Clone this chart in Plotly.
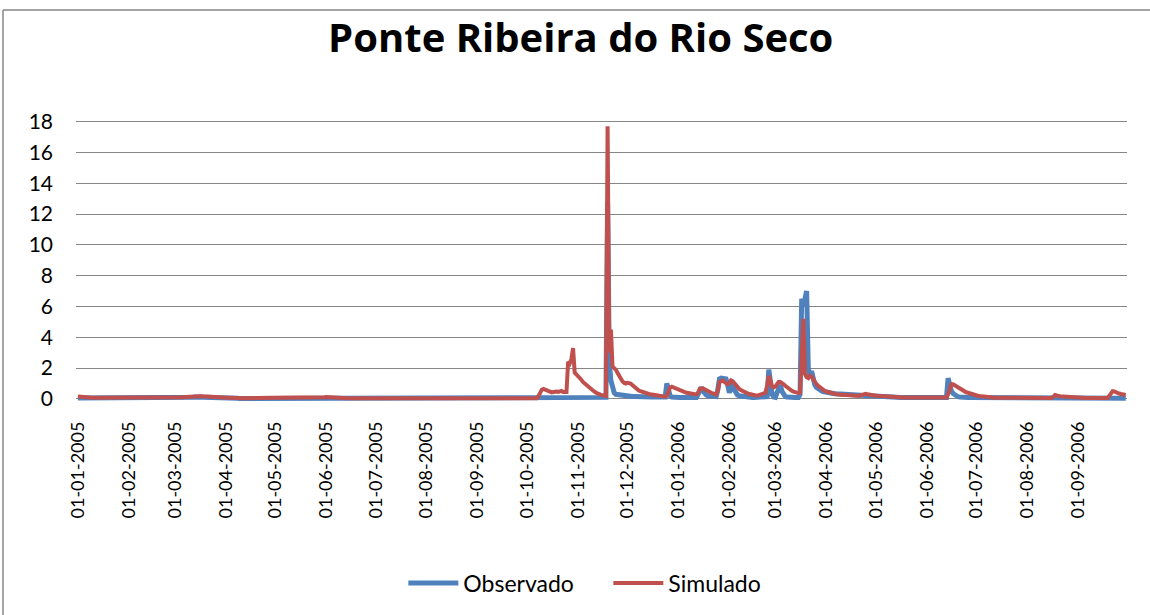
import pandas as pd
import plotly.graph_objects as go

titulo = "Ponte Ribeira do Rio Seco"
inicio = "2005-01-01"
ticks_mensais = pd.date_range("2005-01-01", "2006-09-01", freq="MS")

# caudal diario, uma linha por mes (jan 2005 .. set 2006)
observado = [
    0.06, 0.06, 0.05, 0.05, 0.05, 0.05, 0.04, 0.04, 0.04, 0.04, 0.04, 0.04, 0.04, 0.03, 0.03, 0.03, 0.03, 0.03, 0.03, 0.03, 0.03, 0.03, 0.03, 0.03, 0.03, 0.03, 0.03, 0.03, 0.03, 0.03, 0.03,
    0.03, 0.03, 0.03, 0.03, 0.03, 0.03, 0.03, 0.03, 0.03, 0.03, 0.03, 0.03, 0.03, 0.03, 0.03, 0.03, 0.03, 0.03, 0.03, 0.03, 0.03, 0.03, 0.03, 0.03, 0.03, 0.03, 0.03, 0.03,
    0.03, 0.03, 0.04, 0.05, 0.06, 0.07, 0.08, 0.09, 0.10, 0.10, 0.11, 0.11, 0.12, 0.12, 0.12, 0.11, 0.11, 0.10, 0.10, 0.09, 0.09, 0.08, 0.08, 0.07, 0.07, 0.07, 0.06, 0.06, 0.06, 0.05, 0.05,
    0.05, 0.05, 0.05, 0.04, 0.04, 0.04, 0.04, 0.04, 0.03, 0.03, 0.03, 0.03, 0.03, 0.03, 0.03, 0.03, 0.03, 0.03, 0.03, 0.03, 0.03, 0.03, 0.03, 0.03, 0.03, 0.03, 0.03, 0.03, 0.03, 0.03,
    0.03, 0.03, 0.03, 0.03, 0.03, 0.03, 0.03, 0.03, 0.03, 0.03, 0.03, 0.03, 0.03, 0.03, 0.03, 0.03, 0.03, 0.03, 0.03, 0.03, 0.03, 0.03, 0.03, 0.03, 0.03, 0.03, 0.03, 0.04, 0.05, 0.06, 0.07,
    0.08, 0.07, 0.06, 0.05, 0.05, 0.04, 0.04, 0.03, 0.03, 0.03, 0.03, 0.03, 0.03, 0.03, 0.03, 0.03, 0.03, 0.03, 0.03, 0.03, 0.02, 0.02, 0.02, 0.02, 0.02, 0.02, 0.02, 0.02, 0.02, 0.02,
    0.02, 0.02, 0.02, 0.02, 0.02, 0.02, 0.02, 0.02, 0.02, 0.02, 0.02, 0.02, 0.02, 0.02, 0.02, 0.02, 0.02, 0.02, 0.02, 0.02, 0.02, 0.02, 0.02, 0.02, 0.02, 0.02, 0.02, 0.02, 0.02, 0.02, 0.02,
    0.02, 0.02, 0.02, 0.02, 0.02, 0.02, 0.02, 0.02, 0.02, 0.02, 0.02, 0.02, 0.02, 0.02, 0.02, 0.02, 0.02, 0.02, 0.02, 0.02, 0.02, 0.02, 0.02, 0.02, 0.02, 0.02, 0.02, 0.02, 0.02, 0.02, 0.02,
    0.02, 0.02, 0.02, 0.02, 0.02, 0.02, 0.02, 0.02, 0.02, 0.02, 0.02, 0.02, 0.02, 0.02, 0.02, 0.02, 0.02, 0.02, 0.02, 0.02, 0.02, 0.02, 0.02, 0.02, 0.02, 0.02, 0.02, 0.02, 0.02, 0.02,
    0.02, 0.02, 0.02, 0.02, 0.02, 0.02, 0.02, 0.02, 0.02, 0.02, 0.02, 0.02, 0.02, 0.02, 0.02, 0.02, 0.02, 0.02, 0.02, 0.02, 0.02, 0.02, 0.02, 0.02, 0.02, 0.02, 0.02, 0.02, 0.02, 0.02, 0.02,
    0.03, 0.03, 0.03, 0.03, 0.03, 0.03, 0.03, 0.03, 0.03, 0.03, 0.03, 0.03, 0.03, 0.03, 0.03, 0.03, 0.03, 0.10, 12.8, 2.4, 1.2, 0.6, 0.4, 0.3, 0.28, 0.25, 0.22, 0.2, 0.2, 0.18,
    0.18, 0.17, 0.17, 0.16, 0.16, 0.15, 0.15, 0.15, 0.14, 0.14, 0.14, 0.13, 0.13, 0.13, 0.13, 0.12, 0.12, 0.12, 0.12, 0.12, 0.12, 0.12, 0.12, 0.12, 1.0, 0.4, 0.2, 0.12, 0.1, 0.1, 0.1,
    0.1, 0.1, 0.1, 0.1, 0.1, 0.1, 0.1, 0.1, 0.1, 0.1, 0.1, 0.1, 0.3, 0.6, 0.75, 0.5, 0.35, 0.25, 0.2, 0.18, 0.15, 0.15, 0.15, 0.15, 0.6, 1.3, 1.35, 1.35, 1.3, 1.3, 0.9,
    0.4, 0.7, 1.0, 0.6, 0.35, 0.25, 0.2, 0.18, 0.15, 0.12, 0.1, 0.1, 0.1, 0.1, 0.1, 0.1, 0.1, 0.1, 0.1, 0.1, 0.1, 0.1, 0.1, 0.15, 1.9, 0.9, 0.3, 0.12,
    0.1, 0.4, 0.8, 0.9, 0.5, 0.25, 0.15, 0.12, 0.1, 0.1, 0.1, 0.1, 0.1, 0.1, 0.1, 0.3, 6.5, 6.0, 6.6, 7.0, 2.0, 1.5, 1.8, 1.2, 0.9, 0.75, 0.65, 0.58, 0.52, 0.48, 0.45,
    0.42, 0.4, 0.38, 0.36, 0.35, 0.34, 0.33, 0.32, 0.31, 0.3, 0.3, 0.29, 0.28, 0.28, 0.27, 0.26, 0.26, 0.25, 0.25, 0.24, 0.24, 0.23, 0.23, 0.22, 0.22, 0.21, 0.2, 0.2, 0.19, 0.19,
    0.18, 0.17, 0.16, 0.15, 0.14, 0.13, 0.12, 0.11, 0.1, 0.1, 0.1, 0.1, 0.1, 0.1, 0.1, 0.1, 0.1, 0.1, 0.1, 0.1, 0.09, 0.09, 0.09, 0.09, 0.09, 0.09, 0.09, 0.09, 0.09, 0.09, 0.09,
    0.08, 0.08, 0.08, 0.08, 0.08, 0.08, 0.08, 0.08, 0.08, 0.08, 0.08, 0.08, 0.1, 1.35, 0.8, 0.5, 0.35, 0.25, 0.18, 0.14, 0.12, 0.1, 0.1, 0.1, 0.1, 0.1, 0.1, 0.1, 0.1, 0.1,
    0.09, 0.09, 0.08, 0.08, 0.07, 0.07, 0.06, 0.06, 0.05, 0.05, 0.05, 0.05, 0.05, 0.05, 0.05, 0.05, 0.05, 0.05, 0.05, 0.05, 0.05, 0.05, 0.05, 0.05, 0.05, 0.05, 0.05, 0.05, 0.05, 0.05, 0.05,
    0.04, 0.04, 0.04, 0.04, 0.04, 0.04, 0.04, 0.04, 0.04, 0.04, 0.04, 0.04, 0.04, 0.04, 0.04, 0.04, 0.07, 0.1, 0.08, 0.06, 0.05, 0.05, 0.05, 0.05, 0.05, 0.05, 0.05, 0.05, 0.05, 0.05, 0.05,
    0.04, 0.04, 0.04, 0.04, 0.04, 0.04, 0.04, 0.04, 0.04, 0.04, 0.04, 0.04, 0.04, 0.04, 0.04, 0.04, 0.04, 0.04, 0.04, 0.04, 0.04, 0.04, 0.04, 0.04, 0.04, 0.04, 0.04, 0.04, 0.04, 0.04,
]

simulado = [
    0.15, 0.15, 0.14, 0.13, 0.12, 0.11, 0.10, 0.09, 0.08, 0.08, 0.07, 0.07, 0.06, 0.06, 0.06, 0.05, 0.05, 0.05, 0.05, 0.05, 0.05, 0.05, 0.05, 0.05, 0.05, 0.05, 0.05, 0.05, 0.05, 0.05, 0.05,
    0.05, 0.05, 0.05, 0.05, 0.05, 0.05, 0.05, 0.05, 0.05, 0.05, 0.05, 0.05, 0.05, 0.05, 0.05, 0.05, 0.05, 0.05, 0.05, 0.05, 0.05, 0.05, 0.05, 0.05, 0.05, 0.05, 0.05, 0.05,
    0.06, 0.07, 0.08, 0.09, 0.10, 0.11, 0.12, 0.13, 0.15, 0.16, 0.17, 0.18, 0.19, 0.20, 0.20, 0.19, 0.18, 0.17, 0.16, 0.15, 0.14, 0.13, 0.13, 0.12, 0.12, 0.11, 0.11, 0.10, 0.10, 0.10, 0.09,
    0.09, 0.08, 0.08, 0.07, 0.07, 0.07, 0.06, 0.06, 0.06, 0.06, 0.05, 0.05, 0.05, 0.05, 0.05, 0.05, 0.05, 0.05, 0.05, 0.05, 0.05, 0.05, 0.05, 0.05, 0.05, 0.05, 0.05, 0.05, 0.05, 0.05,
    0.05, 0.05, 0.05, 0.05, 0.05, 0.05, 0.05, 0.05, 0.05, 0.05, 0.05, 0.05, 0.05, 0.05, 0.05, 0.05, 0.05, 0.05, 0.05, 0.05, 0.05, 0.05, 0.05, 0.05, 0.05, 0.05, 0.05, 0.06, 0.08, 0.10, 0.11,
    0.12, 0.11, 0.10, 0.09, 0.08, 0.07, 0.06, 0.06, 0.05, 0.05, 0.05, 0.05, 0.05, 0.05, 0.05, 0.05, 0.05, 0.05, 0.05, 0.05, 0.05, 0.05, 0.05, 0.05, 0.05, 0.05, 0.05, 0.05, 0.05, 0.05,
    0.05, 0.05, 0.05, 0.05, 0.05, 0.05, 0.05, 0.05, 0.05, 0.05, 0.05, 0.05, 0.05, 0.05, 0.05, 0.05, 0.05, 0.05, 0.05, 0.05, 0.05, 0.05, 0.05, 0.05, 0.05, 0.05, 0.05, 0.05, 0.05, 0.05, 0.05,
    0.05, 0.05, 0.05, 0.05, 0.05, 0.05, 0.05, 0.05, 0.05, 0.05, 0.05, 0.05, 0.05, 0.05, 0.05, 0.05, 0.05, 0.05, 0.05, 0.05, 0.05, 0.05, 0.05, 0.05, 0.05, 0.05, 0.05, 0.05, 0.05, 0.05, 0.05,
    0.05, 0.05, 0.05, 0.05, 0.05, 0.05, 0.05, 0.05, 0.05, 0.05, 0.05, 0.05, 0.05, 0.05, 0.05, 0.05, 0.05, 0.05, 0.05, 0.05, 0.05, 0.05, 0.05, 0.05, 0.05, 0.05, 0.05, 0.05, 0.05, 0.05,
    0.05, 0.05, 0.05, 0.05, 0.05, 0.05, 0.05, 0.2, 0.45, 0.6, 0.65, 0.6, 0.55, 0.5, 0.45, 0.42, 0.45, 0.5, 0.48, 0.45, 0.5, 0.52, 0.45, 0.42, 0.45, 2.4, 2.3, 2.6, 3.3, 1.7, 1.6,
    1.45, 1.35, 1.25, 1.1, 1.0, 0.9, 0.8, 0.7, 0.62, 0.55, 0.47, 0.4, 0.34, 0.3, 0.26, 0.24, 0.22, 0.2, 17.7, 3.0, 4.5, 2.1, 2.0, 1.9, 1.7, 1.5, 1.3, 1.15, 1.05, 1.0,
    1.05, 1.05, 1.0, 0.9, 0.8, 0.7, 0.6, 0.55, 0.5, 0.45, 0.4, 0.38, 0.35, 0.32, 0.3, 0.28, 0.26, 0.24, 0.22, 0.2, 0.18, 0.17, 0.16, 0.15, 0.2, 0.5, 0.75, 0.8, 0.75, 0.7, 0.65,
    0.6, 0.55, 0.5, 0.45, 0.42, 0.4, 0.38, 0.35, 0.33, 0.32, 0.3, 0.3, 0.4, 0.65, 0.7, 0.68, 0.62, 0.55, 0.5, 0.45, 0.4, 0.36, 0.33, 0.3, 0.5, 1.1, 1.15, 1.2, 1.1, 1.0, 0.95,
    1.0, 1.2, 1.15, 1.0, 0.85, 0.75, 0.65, 0.58, 0.52, 0.46, 0.4, 0.36, 0.32, 0.3, 0.26, 0.24, 0.22, 0.22, 0.25, 0.3, 0.32, 0.35, 0.4, 0.9, 1.5, 1.2, 0.8, 0.75,
    0.8, 0.95, 1.1, 1.1, 1.05, 0.95, 0.85, 0.75, 0.65, 0.58, 0.52, 0.47, 0.43, 0.4, 0.38, 0.4, 2.5, 5.2, 1.6, 1.4, 1.35, 1.5, 1.45, 1.25, 1.1, 0.95, 0.85, 0.75, 0.65, 0.58, 0.52,
    0.48, 0.44, 0.4, 0.37, 0.34, 0.32, 0.3, 0.28, 0.27, 0.26, 0.25, 0.24, 0.24, 0.23, 0.23, 0.22, 0.22, 0.22, 0.22, 0.21, 0.21, 0.25, 0.32, 0.35, 0.33, 0.3, 0.27, 0.25, 0.23, 0.22,
    0.21, 0.2, 0.19, 0.18, 0.17, 0.16, 0.15, 0.14, 0.13, 0.12, 0.11, 0.1, 0.1, 0.1, 0.1, 0.1, 0.1, 0.1, 0.1, 0.1, 0.1, 0.1, 0.1, 0.1, 0.1, 0.1, 0.09, 0.09, 0.09, 0.09, 0.09,
    0.08, 0.08, 0.08, 0.08, 0.08, 0.08, 0.08, 0.08, 0.08, 0.08, 0.08, 0.08, 0.1, 0.3, 0.75, 0.95, 0.95, 0.88, 0.8, 0.72, 0.65, 0.58, 0.52, 0.47, 0.43, 0.4, 0.36, 0.33, 0.3, 0.27,
    0.24, 0.21, 0.19, 0.17, 0.15, 0.14, 0.13, 0.12, 0.11, 0.1, 0.09, 0.08, 0.08, 0.07, 0.07, 0.06, 0.06, 0.06, 0.06, 0.06, 0.06, 0.06, 0.06, 0.06, 0.06, 0.06, 0.06, 0.06, 0.06, 0.06, 0.06,
    0.06, 0.06, 0.06, 0.06, 0.06, 0.06, 0.06, 0.06, 0.06, 0.06, 0.06, 0.06, 0.06, 0.06, 0.06, 0.06, 0.15, 0.25, 0.22, 0.18, 0.16, 0.15, 0.15, 0.14, 0.14, 0.13, 0.13, 0.12, 0.12, 0.08, 0.06,
    0.06, 0.06, 0.06, 0.06, 0.06, 0.06, 0.06, 0.06, 0.06, 0.06, 0.06, 0.06, 0.06, 0.06, 0.06, 0.06, 0.06, 0.06, 0.06, 0.2, 0.4, 0.5, 0.48, 0.42, 0.37, 0.35, 0.32, 0.3, 0.27, 0.25,
]

datas = pd.date_range(inicio, periods=len(observado), freq="D")

W, H = 1150, 615
ML, MR, MT, MB = 76, 23, 120, 213
pw, ph = W - ML - MR, H - MT - MB
cinza = "#868686"
fonte = "Lato"


def px_x(x):
    return (x - ML) / pw


def px_y(y):
    return 1 - (y - MT) / ph


fig = go.Figure()
fig.add_trace(go.Scatter(x=datas, y=observado, mode="lines", name="Observado",
                         line=dict(color="#4F81BD", width=5)))
fig.add_trace(go.Scatter(x=datas[:len(simulado)], y=simulado, mode="lines", name="Simulado",
                         line=dict(color="#C0504D", width=4)))

fig.update_layout(
    width=W, height=H,
    margin=dict(l=ML, r=MR, t=MT, b=MB),
    paper_bgcolor="white", plot_bgcolor="white",
    font=dict(family=fonte, color="black", size=20),
    title=dict(text=titulo, x=0.505, xanchor="center", y=1 - 38 / H, yanchor="middle",
               font=dict(family="Open Sans", size=40, weight="bold", color="black")),
    legend=dict(orientation="h", xref="container", yref="container",
                x=0.529, xanchor="center", y=1 - 583 / H, yanchor="middle",
                font=dict(size=23), itemwidth=50, entrywidth=140, tracegroupgap=0),
    xaxis=dict(range=["2004-12-30 20:00", "2006-09-30 18:00"],
               tickvals=ticks_mensais, tickformat="%d-%m-%Y", tickangle=-90,
               showgrid=False, zeroline=False, showline=False, ticks="",
               ticklabelstandoff=15, tickfont=dict(size=18)),
    yaxis=dict(range=[-0.2, 18.1], tickvals=list(range(0, 19, 2)),
               showgrid=True, gridcolor=cinza, gridwidth=1,
               zeroline=True, zerolinecolor=cinza, zerolinewidth=1,
               showline=False, ticks="", ticklabelstandoff=22, tickfont=dict(size=21)),
    shapes=[
        dict(type="line", xref="paper", yref="paper", x0=px_x(3), x1=px_x(1160),
             y0=px_y(10), y1=px_y(10), line=dict(color=cinza, width=1.5)),
        dict(type="line", xref="paper", yref="paper", x0=px_x(3), x1=px_x(3),
             y0=px_y(10), y1=px_y(630), line=dict(color=cinza, width=1.5)),
    ],
)

# a pagina tem margem de 8px por omissao; o grafico ocupa a janela toda
fig.write_html("out.html", config={"displayModeBar": False},
               post_script="document.body.style.margin='0';")
